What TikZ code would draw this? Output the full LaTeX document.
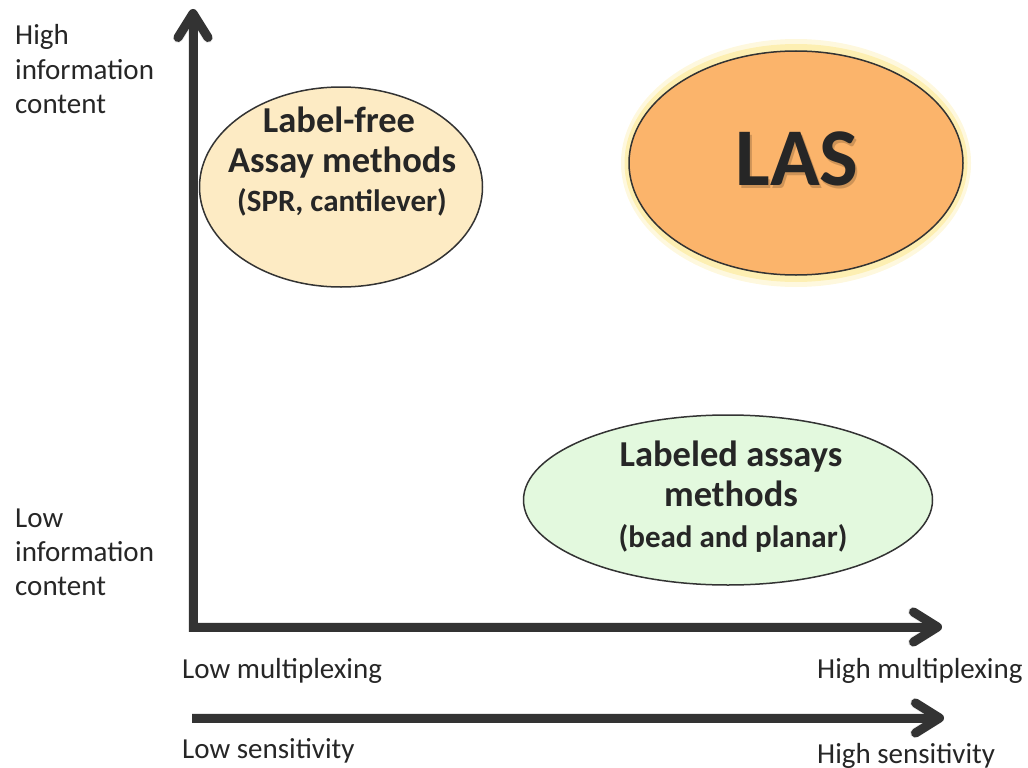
\documentclass[tikz,border=0pt]{standalone}
\usepackage{fontspec}
\setmainfont{Carlito}
\usetikzlibrary{arrows.meta,shapes.geometric}
\definecolor{ink}{HTML}{262626}
\definecolor{axisgray}{HTML}{333333}
\definecolor{lfree}{HTML}{FDEBC4}
\definecolor{lasfill}{HTML}{FBB46B}
\definecolor{lasglow}{HTML}{FCEBA0}
\definecolor{lblfill}{HTML}{E3F9DE}
\tikzset{
  lbl/.style={font=\fontsize{29}{34}\selectfont, text=ink, inner sep=0pt, anchor=base west},
  big/.style={font=\fontsize{36.5}{40}\selectfont\bfseries, text=ink, inner sep=0pt, anchor=base},
  mid/.style={font=\fontsize{31}{34}\selectfont\bfseries, text=ink, inner sep=0pt, anchor=base},
  oval/.style={ellipse, draw=axisgray, line width=1.5pt, inner sep=0pt},
  barb/.tip={Straight Barb[length=24pt,width=30pt,line cap=round,line join=round]},
  axisline/.style={draw=axisgray, line width=9pt, line join=miter},
  axisshadow/.style={draw=black, opacity=0.1, line width=10pt, line join=miter}
}
\begin{document}
\begin{tikzpicture}[x=1pt,y=-1pt]
\useasboundingbox (0,0) rectangle (1028,768);
% coordinates
\coordinate (ytip) at (193,9);
\coordinate (xtip) at (942,627);
\coordinate (sstart) at (192,718);
\coordinate (stip) at (944,718);
% axes shadows
\begin{scope}[shift={(2,4)}]
\draw[axisshadow, barb-barb] (ytip) |- (xtip);
\draw[axisshadow, -barb] (sstart) -- (stip);
\end{scope}
% axes
\draw[axisline, barb-barb] (ytip) |- (xtip);
\draw[axisline, -barb] (sstart) -- (stip);
% ellipses
\node[oval, fill=lfree, minimum width=283pt, minimum height=200pt] (free) at (341,187) {};
\node[ellipse, fill=lasglow, opacity=0.35, minimum width=350pt, minimum height=248pt] (glowA) at (796,163) {};
\node[ellipse, fill=lasglow, opacity=0.7, minimum width=343pt, minimum height=238pt] (glowB) at (796,163) {};
\node[oval, fill=lasfill, minimum width=334pt, minimum height=224pt] (las) at (796,163) {};
\node[oval, fill=lblfill, minimum width=409pt, minimum height=170pt] (labeled) at (728,500) {};
% ellipse texts
\node[big] (f1) at (339,132) {Label-free};
\node[big] (f2) at (342,172) {Assay methods};
\node[mid] (f3) at (342,211) {(SPR, cantilever)};
\node[big] (l1) at (731,466) {Labeled assays};
\node[big] (l2) at (731,506) {methods};
\node[mid] (l3) at (733,547) {(bead and planar)};
\node[font=\fontsize{82}{90}\selectfont\bfseries, text=black, opacity=0.18, inner sep=0pt, anchor=base] (lassh) at (799,188) {LAS};
\node[font=\fontsize{82}{90}\selectfont\bfseries, text=ink, inner sep=0pt, anchor=base] (lastxt) at (797,185) {LAS};
% axis labels
\node[lbl] (h1) at (15,45) {High};
\node[lbl] (h2) at (15,79) {information};
\node[lbl] (h3) at (15,113) {content};
\node[lbl] (w1) at (15,527) {Low};
\node[lbl] (w2) at (15,561) {information};
\node[lbl] (w3) at (15,595) {content};
\node[lbl] (lm) at (182,678) {Low multiplexing};
\node[lbl] (hm) at (817,678) {High multiplexing};
\node[lbl] (ls) at (182,758) {Low sensitivity};
\node[lbl] (hs) at (817,763) {High sensitivity};
\end{tikzpicture}
\end{document}
